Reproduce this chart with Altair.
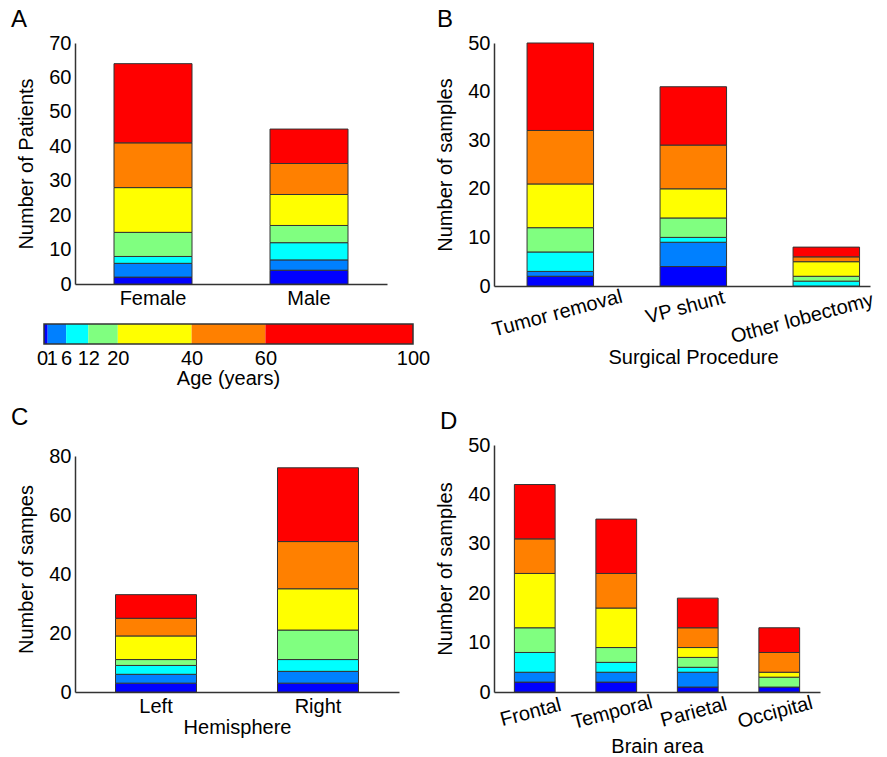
import altair as alt
import pandas as pd

FONT = "Liberation Sans"

age_groups = ["0-1", "1-6", "6-12", "12-20", "20-40", "40-60", "60-100"]
age_edges = [0, 1, 6, 12, 20, 40, 60, 100]
bar_colors = ["#0000FF", "#0080FF", "#00FFFF", "#80FF80", "#FFFF00", "#FF8000", "#FF0000"]
cb_colors = ["#0000C8", "#0080FF", "#00FFFF", "#80FF80", "#FFFF00", "#FF8000", "#FF0000"]

# Panel A
sex_cats = ["Female", "Male"]
female = [2, 4, 2, 7, 13, 13, 23]
male = [4, 3, 5, 5, 9, 9, 10]

# Panel B
proc_cats = ["Tumor removal", "VP shunt", "Other lobectomy"]
tumor_removal = [2, 1, 4, 5, 9, 11, 18]
vp_shunt = [4, 5, 1, 4, 6, 9, 12]
other_lobectomy = [0, 0, 1, 1, 3, 1, 2]

# Panel C
hemi_cats = ["Left", "Right"]
left_hemi = [3, 3, 3, 2, 8, 6, 8]
right_hemi = [3, 4, 4, 10, 14, 16, 25]

# Panel D
area_cats = ["Frontal", "Temporal", "Parietal", "Occipital"]
frontal = [2, 2, 4, 5, 11, 7, 11]
temporal = [2, 2, 2, 3, 8, 7, 11]
parietal = [1, 3, 1, 2, 2, 4, 6]
occipital = [1, 0, 0, 2, 1, 4, 5]


def make_df(cats, series):
    rows = []
    for c, vals in zip(cats, series):
        for i, (g, v) in enumerate(zip(age_groups, vals)):
            if v > 0:
                rows.append({"cat": c, "group": g, "order": i, "count": v})
    return pd.DataFrame(rows)


def per_label(mapping, default):
    return {"condition": [{"test": f"datum.value === '{k}'", "value": v}
                          for k, v in mapping.items()],
            "value": default}


def panel(df, cats, ymax, ystep, ytitle, xtitle, letter, width, height,
          angle=0, xscale=None, yrange=None, title_dx=-64, title_dy=0, x_title_y=None,
          label_offset=0, label_padding=4, label_baseline="top", y_title_y=None):
    xs = xscale if xscale is not None else alt.Scale(paddingInner=0.5, paddingOuter=0.25)
    xaxis_kw = dict(title=xtitle, labelAngle=angle, labelAlign="center",
                    labelBaseline=label_baseline, labelPadding=label_padding,
                    labelOffset=label_offset)
    if x_title_y is not None:
        xaxis_kw["titleX"] = x_title_y[0]
        xaxis_kw["titleY"] = x_title_y[1]
        xaxis_kw["titleBaseline"] = "alphabetic"
    yaxis_kw = dict(values=list(range(0, ymax + 1, ystep)), title=ytitle,
                    labelPadding=4, titlePadding=12)
    if y_title_y is not None:
        yaxis_kw["titleY"] = y_title_y
    ys_kw = dict(domain=[0, ymax], nice=False)
    if yrange is not None:
        ys_kw["range"] = yrange
    return alt.Chart(df).mark_bar(stroke="#333333", strokeWidth=1).encode(
        x=alt.X("cat:N", sort=cats, scale=xs, axis=alt.Axis(**xaxis_kw)),
        y=alt.Y("count:Q", stack="zero", scale=alt.Scale(**ys_kw),
                axis=alt.Axis(**yaxis_kw)),
        color=alt.Color("group:N", scale=alt.Scale(domain=age_groups, range=bar_colors),
                        legend=None),
        order=alt.Order("order:Q", sort="ascending"),
    ).properties(
        width=width, height=height,
        title=alt.TitleParams(text=letter, anchor="start", frame="group", dx=title_dx,
                              dy=title_dy, fontSize=24, fontWeight="normal", font=FONT,
                              offset=1),
    )


chart_a = panel(make_df(sex_cats, [female, male]), sex_cats, 70, 10,
                "Number of Patients", "", "A", 312, 241)

chart_b = panel(make_df(proc_cats, [tumor_removal, vp_shunt, other_lobectomy]), proc_cats,
                50, 10, "Number of samples", "Surgical Procedure", "B", 376, 243,
                angle=345,
                xscale=alt.Scale(paddingInner=0.5, paddingOuter=0.1635, align=0.76),
                title_dx=-57, x_title_y=(199, 77),
                label_offset=per_label({"Tumor removal": -3, "VP shunt": -8,
                                        "Other lobectomy": -24}, 0),
                label_padding=per_label({"Tumor removal": 27, "VP shunt": 21,
                                         "Other lobectomy": 32}, 24),
                label_baseline="middle")

chart_c = panel(make_df(hemi_cats, [left_hemi, right_hemi]), hemi_cats, 80, 20,
                "Number of sampes", "Hemisphere", "C", 324, 247, yrange=[247, 11],
                title_dy=-14, x_title_y=(162, 41), y_title_y=124)

chart_d = panel(make_df(area_cats, [frontal, temporal, parietal, occipital]), area_cats,
                50, 10, "Number of samples", "Brain area", "D", 326, 247, angle=345,
                title_dx=-54, x_title_y=(163, 60), label_offset=-4, label_padding=20,
                label_baseline="middle")

# Colorbar
cb_df = pd.DataFrame({"start": age_edges[:-1], "end": age_edges[1:], "group": age_groups})
frame_df = pd.DataFrame({"start": [age_edges[0]], "end": [age_edges[-1]]})
cb_scale = alt.Scale(domain=[age_edges[0], age_edges[-1]], range=[-31, 338], nice=False, zero=False)
cb_label_offset = {"condition": [{"test": "datum.value === 0", "value": -2},
                                 {"test": "datum.value === 1", "value": 4}],
                   "value": 0}
cb_rects = alt.Chart(cb_df).mark_rect().encode(
    x=alt.X("start:Q", scale=cb_scale,
            axis=alt.Axis(values=age_edges, title="Age (years)", domain=False, ticks=False,
                          labelOverlap=False, labelFlush=False, labelPadding=4,
                          labelOffset=cb_label_offset,
                          titleX=153, titleY=40, titleBaseline="alphabetic", grid=False)),
    x2="end:Q",
    color=alt.Color("group:N", scale=alt.Scale(domain=age_groups, range=cb_colors), legend=None),
)
cb_frame = alt.Chart(frame_df).mark_rect(fillOpacity=0, stroke="#333333", strokeWidth=1.5).encode(
    x=alt.X("start:Q", scale=cb_scale),
    x2="end:Q",
)
colorbar = alt.layer(cb_rects, cb_frame).properties(width=300, height=20)

filler_df = pd.DataFrame({"v": [0]})
filler = alt.Chart(filler_df).mark_point(opacity=0).encode(
    x=alt.X("v:Q", axis=None), y=alt.Y("v:Q", axis=None)
).properties(width=1, height=83)

chart = alt.concat(
    chart_a, chart_b, colorbar, filler, chart_c, chart_d,
    columns=2, spacing={"row": 38, "column": 95}, bounds="flush", align="each",
).properties(
    padding={"left": 3, "top": 0, "right": 0, "bottom": 0}
).configure(
    font=FONT,
).configure_axis(
    labelFont=FONT, titleFont=FONT, labelFontSize=20, titleFontSize=20,
    labelColor="black", titleColor="black", titleFontWeight="normal",
    domainColor="#333333", domainWidth=1.5, ticks=False, grid=False,
).configure_view(
    strokeWidth=0
).configure_title(
    color="black"
)

chart.save("out.html", embed_options={"renderer": "svg", "actions": False})
